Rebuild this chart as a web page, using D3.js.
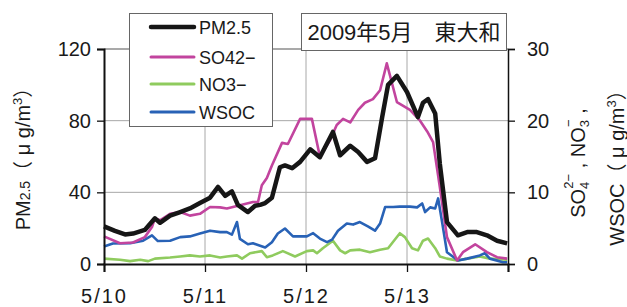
<!DOCTYPE html>
<html lang="ja">
<head>
    <meta charset="utf-8">
    <style type="text/css">
        body { margin: 0; background: #fff; }
        text { font-family: "Liberation Sans", Arial, "Noto Sans CJK JP", sans-serif; fill: #1a1a1a; }
        .grid { stroke: #a8a8a8; stroke-width: 1; }
    </style>
</head>
<body>
<svg width="627" height="307"></svg>
<script src="https://cdnjs.cloudflare.com/ajax/libs/d3/7.8.5/d3.min.js"></script>
<script type="text/javascript">

    // hours since 5/10 00:00
    var dayLabels = ["5/10", "5/11", "5/12", "5/13"];
    var leftTicks = [0, 40, 80, 120];
    var rightTicks = [0, 10, 20, 30];

    // PM2.5 (left axis, ug/m3)
    var pmHours = [0, 2.6, 5, 6.9, 9.7, 12.1, 13.3, 15.7, 18.1, 20.4, 22.8, 25.2, 27.1, 28.8, 30.4, 31.8, 34.2, 35.9, 37.1, 38.3, 39.9, 41.8, 43.0, 44.7, 46.6, 49.0, 51.3, 52.5, 54.4, 56.1, 58.5, 60.4, 62.5, 64.4, 66.1, 67.5, 69.6, 72.0, 74.6, 75.8, 77.0, 78.7, 79.8, 81.5, 84.1, 86.3, 88.6, 91.0, 93.4, 95.8];
    var pmValues = [21, 18.5, 16.5, 17, 19, 25.5, 23, 27, 29, 31, 34, 37, 43, 38, 40.5, 33, 29, 32.5, 33, 34, 37, 54, 55, 53.5, 57, 64, 59.6, 65, 73.7, 60.7, 66, 62.5, 57, 59, 82, 100, 105, 96, 82, 90, 92, 84, 56, 23.4, 16, 17.8, 17.8, 16, 13, 11.5];

    // SO4 2- (right axis)
    var so4Hours = [0, 3.8, 6.9, 9.7, 11.4, 12.1, 13.3, 15.7, 18.1, 20.4, 22.8, 25.2, 27.6, 29.2, 35.4, 36.6, 37.5, 38.7, 39.9, 42.3, 43.7, 46.6, 49.4, 51.3, 53.7, 55.3, 56.8, 58.5, 60.4, 62.0, 63.9, 65.6, 67.2, 69.6, 72.7, 75.1, 76.8, 78.2, 79.8, 81.5, 83.9, 85.3, 88.2, 91.0, 93.4, 95.8];
    var so4Values = [3.85, 2.9, 3.0, 3.75, 5.15, 6.4, 6.1, 7.0, 7.25, 6.75, 7.0, 7.95, 7.9, 7.75, 8.65, 8.65, 11, 12, 13.75, 16.9, 16.75, 20.25, 20.25, 15, 17.25, 19.4, 20.25, 19.75, 21.5, 22.5, 23, 24.25, 28, 22.6, 21.5, 20, 18.5, 17, 10.75, 3.75, 0.5, 1.65, 2.75, 1.65, 0.95, 0.75];

    // NO3- (right axis)
    var no3Hours = [0, 3.8, 6.2, 8.6, 10.5, 12.1, 15.7, 18.1, 20.4, 22.8, 25.2, 27.6, 29.2, 31.6, 32.8, 34.7, 37.5, 38.7, 40.1, 42.5, 45.4, 48.2, 49.7, 50.6, 52.0, 54.4, 56.1, 57.3, 58.5, 60.8, 63.2, 65.6, 67.5, 70.3, 71.5, 73.2, 74.6, 75.8, 77.0, 78.7, 79.8, 81.5, 83.9, 86.3, 89.3, 91.7, 95.8];
    var no3Values = [0.75, 0.6, 0.4, 0.6, 0.4, 0.75, 0.9, 1.05, 1.2, 1.05, 1.2, 0.9, 1.05, 1.2, 0.75, 1.5, 1.8, 0.95, 1.2, 1.8, 1.05, 1.8, 1.9, 1.5, 2.2, 3.25, 1.9, 1.5, 1.9, 2.0, 1.65, 2.0, 2.2, 4.3, 3.75, 2.2, 1.9, 3.25, 3.55, 2.2, 1.05, 0.75, 0.5, 0.75, 1.05, 0.75, 0.6];

    // WSOC (right axis)
    var wsocHours = [0, 2.1, 6.2, 9.3, 11.4, 12.8, 15.7, 18.1, 20.4, 22.8, 25.2, 27.6, 29.2, 30.4, 31.6, 32.3, 34.2, 35.4, 38.3, 39.9, 41.3, 43.0, 44.9, 48.2, 49.7, 51.3, 53.0, 54.2, 55.6, 57.7, 59.2, 60.8, 62.7, 64.4, 65.6, 66.8, 68.7, 70.3, 72.7, 74.4, 75.6, 76.3, 77.5, 78.7, 79.4, 80.3, 81.5, 84.1, 86.3, 89.3, 90.5, 91.7, 94.8, 95.8];
    var wsocValues = [2.45, 2.85, 2.9, 3.25, 4.0, 3.2, 3.25, 3.75, 3.85, 4.25, 4.65, 4.45, 4.45, 4.1, 5.85, 3.5, 2.75, 2.9, 2.3, 3.05, 4.25, 4.95, 3.85, 3.85, 4.3, 3.55, 3.05, 3.4, 4.65, 5.65, 5.5, 5.85, 5.25, 4.65, 5.65, 7.95, 7.95, 8.0, 8.0, 7.9, 8.45, 7.25, 7.9, 7.75, 9.15, 6.0, 1.65, 0.5, 0.75, 1.2, 1.5, 0.75, 0.25, 0.25];

    var svg = d3.select("svg");
    var mLeft = 104, mRight = 508, mTop = 49, mBottom = 264;

    var x = d3.scaleLinear().domain([0, 96]).range([mLeft, mRight]);
    var yL = d3.scaleLinear().domain([0, 120]).range([mBottom, mTop]);
    var yR = d3.scaleLinear().domain([0, 30]).range([mBottom, mTop]);

    // grid
    svg.append("g").selectAll("line").data([24, 48, 72]).enter().append("line")
        .attr("class", "grid")
        .attr("x1", function (d) { return x(d); }).attr("x2", function (d) { return x(d); })
        .attr("y1", mTop).attr("y2", mBottom);
    svg.append("g").selectAll("line").data([40, 80]).enter().append("line")
        .attr("class", "grid")
        .attr("x1", mLeft).attr("x2", mRight)
        .attr("y1", function (d) { return yL(d); }).attr("y2", function (d) { return yL(d); });
    svg.append("line")
        .attr("x1", mLeft).attr("x2", mRight).attr("y1", yL(120)).attr("y2", yL(120))
        .attr("stroke", "#555").attr("stroke-width", 1.2);

    // series
    function drawLine(hours, values, scale, color, w) {
        var pts = hours.map(function (h, i) { return [h, values[i]]; });
        var line = d3.line()
            .x(function (d) { return x(d[0]); })
            .y(function (d) { return scale(d[1]); });
        svg.append("path").datum(pts)
            .attr("d", line)
            .attr("fill", "none")
            .attr("stroke", color)
            .attr("stroke-width", w)
            .attr("stroke-linejoin", "round");
    }
    drawLine(no3Hours, no3Values, yR, "#8fcb5e", 2.6);
    drawLine(wsocHours, wsocValues, yR, "#2862b6", 2.6);
    drawLine(so4Hours, so4Values, yR, "#c2449e", 2.6);
    drawLine(pmHours, pmValues, yL, "#161616", 4.5);

    // axes
    var axL = svg.append("g").attr("transform", "translate(" + mLeft + ",0)")
        .call(d3.axisLeft(yL).tickValues(leftTicks).tickSize(7).tickPadding(6));
    var axR = svg.append("g").attr("transform", "translate(" + mRight + ",0)")
        .call(d3.axisRight(yR).tickValues(rightTicks).tickSize(7).tickPadding(12));
    var axB = svg.append("g").attr("transform", "translate(0," + mBottom + ")")
        .call(d3.axisBottom(x).tickValues([0, 24, 48, 72, 96]).tickSize(8)
            .tickFormat(function (d, i) { return dayLabels[i] || ""; }).tickPadding(17));
    [axL, axR, axB].forEach(function (a) {
        a.select(".domain").attr("stroke", "#111").attr("stroke-width", 2);
        a.selectAll(".tick line").attr("stroke", "#111").attr("stroke-width", 1.3);
        a.selectAll("text").style("font-size", "20px").style("font-family", "'Liberation Sans', Arial, sans-serif").attr("fill", "#1a1a1a");
    });
    axR.select(".domain").attr("stroke-width", 1.5);
    axB.selectAll("text").style("letter-spacing", "2px");

    // legend
    var legendNames = ["PM2.5", "SO42−", "NO3−", "WSOC"];
    var legendColors = ["#161616", "#c2449e", "#8fcb5e", "#2862b6"];
    var legendWidths = [4.5, 3, 3, 3];
    var legendY = [27, 57, 84, 112];
    svg.append("rect").attr("x", 129.5).attr("y", 13.5).attr("width", 143).attr("height", 113)
        .attr("fill", "#fff").attr("stroke", "#666").attr("stroke-width", 1);
    var lg = svg.append("g").selectAll("g").data(legendNames).enter().append("g");
    lg.append("line")
        .attr("x1", 151).attr("x2", 194)
        .attr("y1", function (d, i) { return legendY[i]; }).attr("y2", function (d, i) { return legendY[i]; })
        .attr("stroke", function (d, i) { return legendColors[i]; })
        .attr("stroke-width", function (d, i) { return legendWidths[i]; })
        .attr("stroke-linecap", "round");
    lg.append("text")
        .attr("x", 199)
        .attr("y", function (d, i) { return legendY[i] + 6.5; })
        .style("font-size", "18px")
        .text(function (d) { return d; });

    // title box
    svg.append("rect").attr("x", 301.5).attr("y", 13.5).attr("width", 205).attr("height", 37)
        .attr("fill", "#fff").attr("stroke", "#666").attr("stroke-width", 1);
    svg.append("text").attr("x", 404).attr("y", 40).attr("text-anchor", "middle")
        .style("font-size", "22px").text("2009年5月　東大和");

    // left axis title
    var tl = svg.append("text").attr("transform", "translate(30,154) rotate(-90)")
        .attr("text-anchor", "middle").style("font-size", "20px");
    tl.append("tspan").text("PM");
    tl.append("tspan").style("font-size", "14px").text("2.5");
    tl.append("tspan").text("（ μ g/m");
    tl.append("tspan").style("font-size", "13px").attr("dy", -8).text("3");
    tl.append("tspan").attr("dy", 8).text("）");

    // right axis titles
    var tr1 = svg.append("text").attr("transform", "translate(585,163) rotate(-90)")
        .attr("text-anchor", "middle").style("font-size", "20px");
    tr1.append("tspan").text("SO");
    tr1.append("tspan").style("font-size", "13px").attr("dy", 4).text("4");
    tr1.append("tspan").style("font-size", "13px").attr("dx", -7).attr("dy", -16).text("2−");
    tr1.append("tspan").attr("dy", 12).text(" , NO");
    tr1.append("tspan").style("font-size", "13px").attr("dy", 4).text("3");
    tr1.append("tspan").style("font-size", "13px").attr("dx", -7).attr("dy", -16).text("−");
    tr1.append("tspan").attr("dy", 12).text(" ,");

    var tr2 = svg.append("text").attr("transform", "translate(624,163) rotate(-90)")
        .attr("text-anchor", "middle").style("font-size", "20px");
    tr2.append("tspan").text("WSOC（ μ g/m");
    tr2.append("tspan").style("font-size", "13px").attr("dy", -8).text("3");
    tr2.append("tspan").attr("dy", 8).text("）");

</script>
</body>
</html>
